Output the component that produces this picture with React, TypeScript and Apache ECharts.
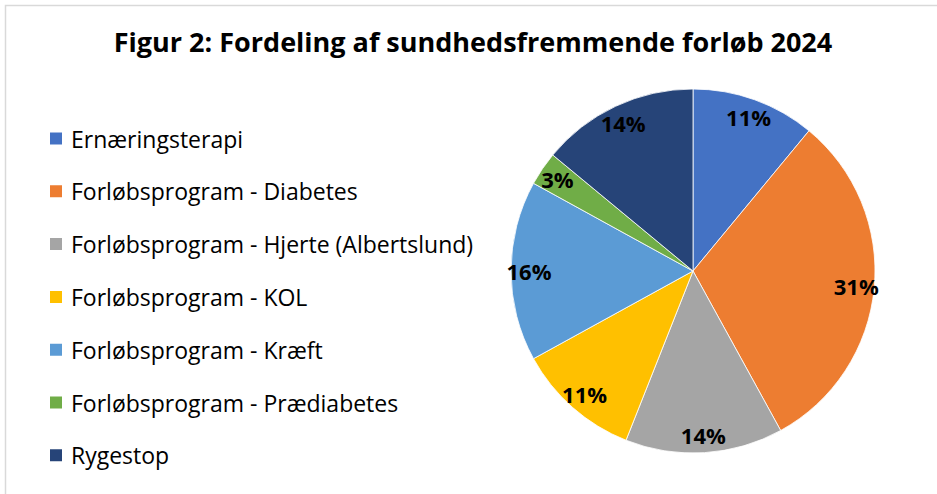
import React, { useEffect, useRef } from "react";
import * as echarts from "echarts";

const categories = [
  "Ernæringsterapi",
  "Forløbsprogram - Diabetes",
  "Forløbsprogram - Hjerte (Albertslund)",
  "Forløbsprogram - KOL",
  "Forløbsprogram - Kræft",
  "Forløbsprogram - Prædiabetes",
  "Rygestop",
];
const values = [11, 31, 14, 11, 16, 3, 14];
const colors = ["#4472C4", "#ED7D31", "#A5A5A5", "#FFC000", "#5B9BD5", "#70AD47", "#264478"];
const title = "Figur 2: Fordeling af sundhedsfremmende forløb 2024";

export default function App() {
  const ref = useRef<HTMLDivElement>(null);
  useEffect(() => {
    if (!ref.current) return;
    const chart = echarts.init(ref.current, undefined, { renderer: "svg" });
    const data = categories.map((name, i) => ({ name, value: values[i] }));
    chart.setOption({
      animation: false,
      backgroundColor: "#fff",
      color: colors,
      title: {
        text: title,
        left: 473,
        top: 28,
        padding: 0,
        textAlign: "center",
        textStyle: {
          fontFamily: "Open Sans",
          fontWeight: "bold",
          fontSize: 27,
          color: "#000",
        },
      },
      legend: {
        orient: "vertical",
        left: 48,
        top: 127,
        height: 400,
        padding: 0,
        icon: "rect",
        itemWidth: 14,
        itemHeight: 14,
        itemGap: 29.8,
        selectedMode: false,
        textStyle: {
          fontFamily: "Open Sans",
          fontSize: 23,
          color: "#000",
          padding: [0, 0, 0, 3],
        },
        data: categories,
      },
      graphic: [
        {
          type: "rect",
          shape: { x: 5.5, y: 5.5, width: 940, height: 500 },
          style: { fill: "none", stroke: "#d9d9d9", lineWidth: 1.5 },
          silent: true,
        },
      ],
      series: [
        {
          type: "pie",
          center: [693, 271],
          radius: [0, 182],
          startAngle: 90,
          clockwise: true,
          data,
          label: { show: false },
          labelLine: { show: false },
          itemStyle: { borderColor: "#fff", borderWidth: 0.8 },
          silent: true,
        },
        {
          type: "pie",
          center: [693, 271],
          radius: [140, 182],
          startAngle: 90,
          clockwise: true,
          data,
          itemStyle: { color: "rgba(0,0,0,0)" },
          label: {
            show: true,
            position: "inside",
            formatter: "{d}%",
            fontFamily: "Open Sans",
            fontWeight: "bold",
            fontSize: 22,
            color: "#000",
          },
          labelLine: { show: false },
          silent: true,
        },
      ],
    });
    return () => chart.dispose();
  }, []);
  return <div ref={ref} style={{ width: 937, height: 494, position: "absolute", left: 0, top: 0 }} />;
}
